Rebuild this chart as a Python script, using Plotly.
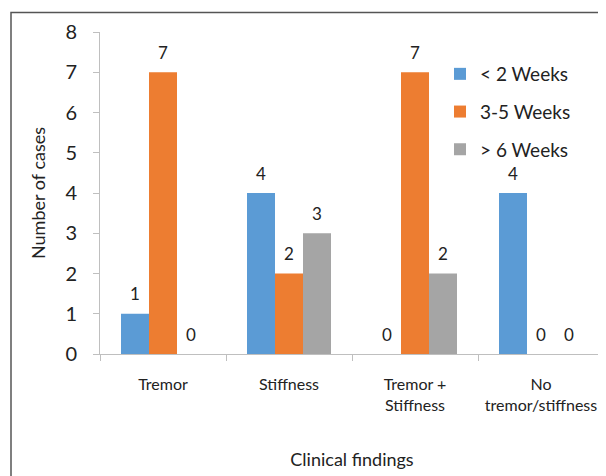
import plotly.graph_objects as go

categories = ["Tremor", "Stiffness", "Tremor +<br>Stiffness", "No<br>tremor/stiffness"]
series_names = ["&lt; 2 Weeks", "3-5 Weeks", "&gt; 6 Weeks"]
lt2_weeks = [1, 4, 0, 4]
w3_5_weeks = [7, 2, 7, 0]
gt6_weeks = [0, 3, 2, 0]
y_ticks = [0, 1, 2, 3, 4, 5, 6, 7, 8]

colors = ["#5B9BD5", "#ED7D31", "#A5A5A5"]
values = [lt2_weeks, w3_5_weeks, gt6_weeks]

# the page body adds an 8px margin; lay the figure out so it lands on the window
OFF = 8
W, H = 606 - OFF, 476 - OFF
ML, MR, MT, MB = 100 - OFF, 2, 32 - OFF, 122
plot_w = W - ML - MR
plot_h = H - MT - MB
bargap = 1 / 3
cat_px = plot_w / len(categories)
bar_px = cat_px * (1 - bargap) / 3

font_family = "Lato, 'Open Sans', sans-serif"


def px_to_paper_x(sx):
    return (sx - OFF - ML) / plot_w


def px_to_paper_y(sy):
    return (H - MB - (sy - OFF)) / plot_h


fig = go.Figure()
for i, (name, vals, col) in enumerate(zip(series_names, values, colors)):
    fig.add_trace(go.Bar(
        x=categories, y=vals, name=name, marker=dict(color=col, line=dict(width=0)),
        legendgroup=f"g{i}", hoverinfo="skip",
    ))

annotations = []
for i, vals in enumerate(values):
    for c, v in zip(categories, vals):
        annotations.append(dict(
            x=c, y=v, xref="x", yref="y", text=str(v), showarrow=False,
            xshift=(i - 1) * bar_px, yshift=20, yanchor="middle",
            font=dict(size=17, color="#222", family=font_family),
        ))

# frame (left and top edges of the chart border)
fx = px_to_paper_x(11)
fy = px_to_paper_y(12.5)
shapes = [dict(type="path", xref="paper", yref="paper",
               path=f"M {fx} -1 L {fx} {fy} L 1.5 {fy}",
               line=dict(color="#555555", width=1.5))]

fig.update_layout(
    width=W, height=H,
    margin=dict(l=ML, r=MR, t=MT, b=MB, autoexpand=False),
    paper_bgcolor="white", plot_bgcolor="white",
    barmode="group", bargap=bargap, bargroupgap=0,
    font=dict(family=font_family, color="#222"),
    showlegend=True,
    legend=dict(x=px_to_paper_x(440), y=px_to_paper_y(55), xanchor="left", yanchor="top",
                font=dict(size=19, color="#222", family=font_family),
                tracegroupgap=10, bgcolor="rgba(0,0,0,0)"),
    xaxis=dict(
        type="category", tickson="boundaries", ticks="outside", ticklen=6,
        tickcolor="#BFBFBF", showline=True, linecolor="#BFBFBF", linewidth=1,
        showgrid=False, tickfont=dict(size=16, color="#222"), automargin=False,
        ticklabelstandoff=16,
        title=dict(text="Clinical findings", font=dict(size=18, color="#222"), standoff=40),
    ),
    yaxis=dict(
        range=[0, 8], tickvals=y_ticks, ticks="outside", ticklen=6,
        tickcolor="#BFBFBF", showline=True, linecolor="#BFBFBF", linewidth=1,
        showgrid=False, zeroline=False, tickfont=dict(size=20, color="#222"),
        automargin=False, ticklabelstandoff=12,
        title=dict(text="Number of cases", font=dict(size=18, color="#222"), standoff=15),
    ),
    annotations=annotations,
    shapes=shapes,
)

fig.write_html("out.html")
